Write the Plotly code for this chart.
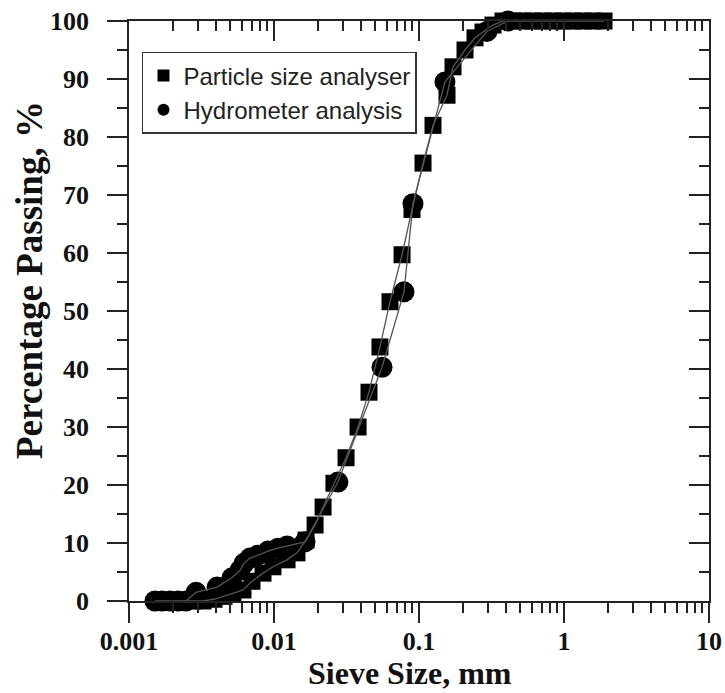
import plotly.graph_objects as go

# Particle size analyser (squares)
psa_size = [0.00236, 0.00276, 0.00324, 0.00386, 0.00452, 0.00521, 0.00611, 0.00705,
            0.0084, 0.00984, 0.0123, 0.0144, 0.01663, 0.0192, 0.0218, 0.0259, 0.0314,
            0.0380, 0.0452, 0.0538, 0.0631, 0.0764, 0.0895, 0.1066, 0.1249, 0.156,
            0.1716, 0.2076, 0.2434, 0.2763, 0.3239, 0.3796, 0.445, 0.5214, 0.611,
            0.7165, 0.840, 0.984, 1.154, 1.352, 1.585, 1.888]
psa_pass = [0, 0, 0, 0.3, 0.8, 1.3, 1.9, 3.4,
            4.8, 5.9, 7.1, 8.3, 10.5, 13.1, 16.2, 20.3, 24.7,
            30.0, 36.0, 43.8, 51.6, 59.7, 67.5, 75.5, 82.0, 87.2,
            92.1, 95.0, 97.1, 98.1, 99.3, 100, 100, 100, 100,
            100, 100, 100, 100, 100, 100, 100]

# Hydrometer analysis (circles)
hyd_size = [0.00151, 0.00169, 0.00192, 0.00218, 0.00247, 0.0029, 0.00405, 0.00513,
            0.00583, 0.00621, 0.00683, 0.00776, 0.00909, 0.01066, 0.0123, 0.01636,
            0.0276, 0.0556, 0.0788, 0.0909, 0.151, 0.294, 0.411]
hyd_pass = [0, 0, 0, 0, 0, 1.5, 2.4, 4.0,
            5.3, 6.5, 7.4, 7.9, 8.6, 9.1, 9.5, 10.2,
            20.5, 40.3, 53.3, 68.5, 89.5, 98.2, 100]

x_tick_vals = [0.001, 0.01, 0.1, 1, 10]
x_tick_text = ["0.001", "0.01", "0.1", "1", "10"]
x_minor_vals = [m * d for d in [0.001, 0.01, 0.1, 1] for m in range(2, 10)]
y_tick_vals = list(range(0, 101, 10))
y_minor_vals = list(range(5, 100, 10))

x_title = "Sieve Size, mm"
y_title = "Percentage Passing, %"

serif_bold = dict(family="Liberation Serif", size=26, color="#111", weight="bold")
axis_col = "#222"

fig = go.Figure()

fig.add_trace(go.Scatter(x=psa_size, y=psa_pass, mode="markers", name="Particle size analyser",
                         marker=dict(symbol="square", size=17, color="black"), cliponaxis=False))
fig.add_trace(go.Scatter(x=hyd_size, y=hyd_pass, mode="markers", name="Hydrometer analysis",
                         marker=dict(symbol="circle", size=21, color="black"), cliponaxis=False))
fig.add_trace(go.Scatter(x=psa_size, y=psa_pass, mode="lines", showlegend=False,
                         line=dict(color="#555", width=1.3), cliponaxis=False))
fig.add_trace(go.Scatter(x=hyd_size, y=hyd_pass, mode="lines", showlegend=False,
                         line=dict(color="#555", width=1.3), cliponaxis=False))
# empty trace to activate mirrored axes
fig.add_trace(go.Scatter(x=[], y=[], xaxis="x2", yaxis="y2", showlegend=False, hoverinfo="skip"))

common_x = dict(type="log", range=[-3, 1], showgrid=False, zeroline=False, automargin=False,
                linecolor=axis_col, linewidth=1.5, tickcolor=axis_col, tickwidth=1.5)
common_y = dict(range=[0, 100], showgrid=False, zeroline=False, automargin=False,
                linecolor=axis_col, linewidth=1.5, tickcolor=axis_col, tickwidth=1.5)

fig.update_layout(
    width=725, height=693,
    margin=dict(l=129, r=16, t=21, b=92, autoexpand=False),
    paper_bgcolor="white", plot_bgcolor="white",
    xaxis=dict(**common_x, showline=True, ticks="outside", ticklen=20,
               tickvals=x_tick_vals, ticktext=x_tick_text, tickfont=serif_bold,
               ticklabelstandoff=-4, ticklabeloverflow="allow",
               minor=dict(tickvals=x_minor_vals, ticks="outside", ticklen=10,
                          tickcolor=axis_col, tickwidth=1.5)),
    yaxis=dict(**common_y, showline=True, ticks="outside", ticklen=20,
               tickvals=y_tick_vals, tickfont=serif_bold,
               ticklabelstandoff=13, ticklabeloverflow="allow",
               minor=dict(tickvals=y_minor_vals, ticks="outside", ticklen=10,
                          tickcolor=axis_col, tickwidth=1.5)),
    xaxis2=dict(**common_x, overlaying="x", side="top", anchor="y2", showline=True,
                ticks="inside", ticklen=20, tickvals=x_tick_vals, showticklabels=False,
                minor=dict(tickvals=x_minor_vals, ticks="inside", ticklen=10,
                           tickcolor=axis_col, tickwidth=1.5)),
    yaxis2=dict(**common_y, overlaying="y", side="right", anchor="x2", showline=True,
                ticks="inside", ticklen=20, tickvals=y_tick_vals, showticklabels=False,
                minor=dict(tickvals=y_minor_vals, ticks="inside", ticklen=10,
                           tickcolor=axis_col, tickwidth=1.5)),
    legend=dict(x=0.0224, y=0.9466, xanchor="left", yanchor="top",
                bgcolor="white", bordercolor="#333", borderwidth=1.5,
                font=dict(family="Liberation Sans", size=24, color="#222"),
                tracegroupgap=0, itemsizing="constant"),
    showlegend=True,
    annotations=[
        dict(text=x_title, xref="paper", yref="paper", x=(410 - 129) / 580, y=-(673 - 601) / 580,
             xanchor="center", yanchor="middle", showarrow=False,
             font=dict(family="Liberation Serif", size=32, color="#111", weight="bold")),
        dict(text=y_title, xref="paper", yref="paper", x=-(129 - 30) / 580, y=(601 - 280) / 580,
             xanchor="center", yanchor="middle", showarrow=False, textangle=-90,
             font=dict(family="Liberation Serif", size=37, color="#111", weight="bold")),
    ],
)

fig.write_html("out.html", config={"displayModeBar": False},
               post_script="document.body.style.margin='0';document.body.style.overflow='hidden';")
